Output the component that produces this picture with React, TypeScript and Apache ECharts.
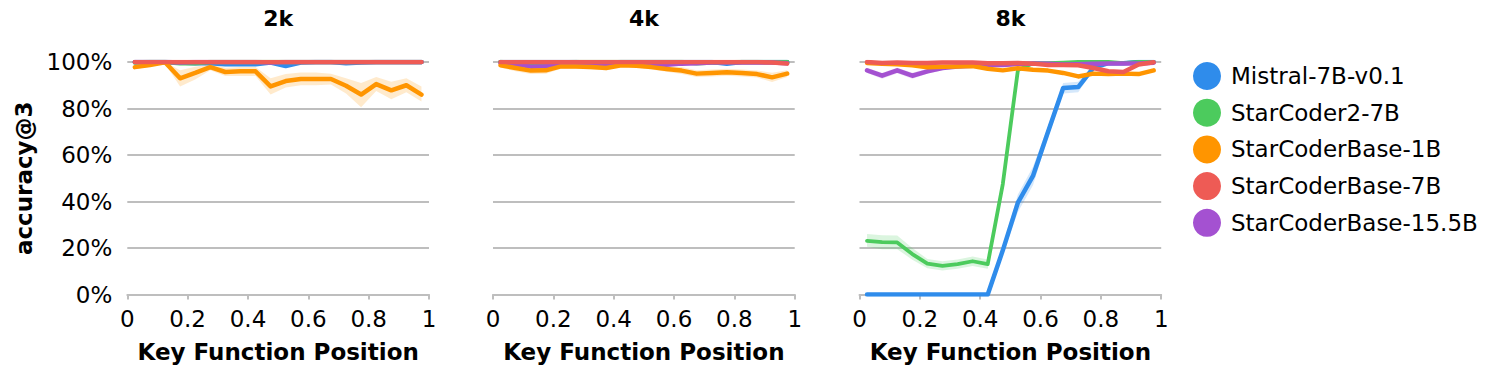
import React, { useEffect, useRef } from "react";
import * as echarts from "echarts";

const FONT = "'DejaVu Sans', Verdana, sans-serif";

const positions = [0.025, 0.075, 0.125, 0.175, 0.225, 0.275, 0.325, 0.375, 0.425, 0.475, 0.525, 0.575, 0.625, 0.675, 0.725, 0.775, 0.825, 0.875, 0.925, 0.975];
const panelTitles = ["2k", "4k", "8k"];
const modelNames = ["Mistral-7B-v0.1", "StarCoder2-7B", "StarCoderBase-1B", "StarCoderBase-7B", "StarCoderBase-15.5B"];
const modelColors = ["#2f8ceb", "#4ccb5d", "#ff9500", "#ee5b55", "#a451d1"];
const xTicks = [0, 0.2, 0.4, 0.6, 0.8, 1];
const yTicks = [0, 20, 40, 60, 80, 100];

// 2k context (accuracy@3, %)
const mistral2k = [100, 100, 100, 99.8, 99.5, 99.5, 99, 99, 99, 99.8, 98.3, 99.8, 100, 100, 99.5, 99.8, 100, 100, 100, 100];
const sc2_2k = [99.8, 100, 100, 99.5, 99.5, 100, 100, 100, 100, 100, 100, 100, 100, 100, 100, 100, 100, 100, 100, 100];
const scb1_2k = [97.8, 98.7, 99.9, 93, 95.3, 97.8, 95.7, 96, 96, 89.5, 91.8, 92.7, 92.7, 92.7, 89.8, 86, 90.5, 87.8, 90, 86];
const scb7_2k = [100, 100, 100, 100, 100, 100, 100, 100, 100, 100, 100, 100, 100, 100, 100, 100, 100, 100, 100, 100];
const scb15_2k = [100, 100, 100, 99.8, 100, 100, 100, 100, 100, 99.8, 100, 100, 100, 100, 100, 100, 100, 100, 100, 100];
const scb1_2kLo = [97, 98, 99.3, 89.5, 92.5, 96.5, 94, 94, 94, 86, 89, 90, 90, 90.3, 86.5, 80.5, 87.5, 84, 87, 83];
const scb1_2kHi = [98.6, 99.4, 100, 96.5, 98, 99, 97.5, 97.8, 97.8, 93, 94.8, 95.5, 95.5, 95, 93, 91, 93.5, 91.5, 93, 89.5];

// 4k context
const mistral4k = [100, 100, 100, 100, 100, 100, 99.6, 99.6, 100, 100, 100, 100, 100, 100, 100, 99.2, 100, 100, 100, 100];
const sc2_4k = [100, 99.5, 99.5, 99.3, 99.8, 100, 100, 100, 100, 100, 100, 100, 100, 99.5, 99.8, 99.8, 100, 100, 100, 100];
const scb1_4k = [98.6, 97.4, 96.3, 96.4, 98.1, 98.1, 97.8, 97.4, 98.6, 98.4, 97.8, 97, 96.3, 95, 95.3, 95.6, 95.3, 94.8, 93.4, 95];
const scb7_4k = [100, 100, 100, 100, 100, 100, 100, 100, 100, 100, 100, 100, 100, 100, 100, 100, 100, 100, 99.8, 99.3];
const scb15_4k = [99.5, 99, 98, 98.2, 99.5, 99.5, 98.8, 98.5, 99, 99.3, 99, 98.8, 99.3, 99.5, 99.8, 99.8, 99.8, 99.8, 99.8, 99.5];
const scb1_4kLo = [97.6, 96, 94.8, 95, 97.1, 97.1, 96.8, 96.4, 97.8, 97.6, 96.8, 95.8, 94.8, 93.5, 93.8, 94.1, 93.8, 93.3, 91.4, 93.5];
const scb1_4kHi = [99.4, 98.6, 97.6, 97.8, 99, 99, 98.8, 98.4, 99.4, 99.2, 98.8, 98.2, 97.8, 96.5, 96.8, 97.1, 96.8, 96.3, 95.4, 96.5];

// 8k context
const mistral8k = [0, 0, 0, 0, 0, 0, 0, 0, 0, 19, 39.5, 51, 70, 88.8, 89.2, 97.5, 99.5, 99.5, 100, 100];
const sc2_8k = [23.1, 22.5, 22.4, 17.4, 13.3, 12.3, 13.1, 14.3, 13.1, 47.5, 96.5, 99.5, 99.5, 99.7, 100, 100, 100, 99.5, 100, 100];
const scb1_8k = [99.6, 99.3, 99, 98.6, 97.7, 98, 98.1, 98.3, 97.1, 96.4, 97.3, 96.7, 96.3, 95.3, 93.8, 95, 94.8, 95, 94.8, 96.4];
const scb7_8k = [100, 99.6, 99.8, 99.6, 99.6, 99.8, 99.8, 99.8, 99.5, 99.5, 99.6, 99.3, 98.7, 98.7, 98.6, 97.4, 96, 95.7, 98.9, 99.9];
const scb15_8k = [96.4, 94.1, 96.4, 94.1, 96, 97.4, 98.1, 98.4, 98.7, 98.7, 99.1, 99.4, 99.2, 98.9, 99, 99.2, 99.4, 99.4, 99.4, 99.7];
const mistral8kLo = [0, 0, 0, 0, 0, 0, 0, 0, 0, 17, 35.5, 47, 67.5, 86.5, 87, 96.5, 99, 99, 99.6, 99.6];
const mistral8kHi = [0.3, 0.3, 0.3, 0.3, 0.3, 0.3, 0.3, 0.3, 0.3, 21, 43, 55, 72.5, 91, 91.5, 98.5, 100, 100, 100, 100];
const sc2_8kLo = [20.5, 19.5, 19.5, 15, 11.3, 10.3, 11.1, 12.3, 11.1, 45.5, 95.5, 99, 99, 99.3, 99.6, 99.6, 99.6, 99, 99.6, 99.6];
const sc2_8kHi = [26, 25.5, 25.4, 20, 15.3, 14.3, 15.1, 16.3, 15.1, 49.5, 97.5, 100, 100, 100, 100, 100, 100, 100, 100, 100];
const scb15_8kLo = [95.3, 92.8, 95.2, 92.8, 94.9, 96.5, 97.3, 97.7, 98, 98, 98.5, 98.8, 98.6, 98.3, 98.4, 98.6, 98.8, 98.8, 98.8, 99.2];
const scb15_8kHi = [97.4, 95.4, 97.5, 95.4, 97.1, 98.3, 98.9, 99.1, 99.3, 99.3, 99.6, 99.9, 99.8, 99.5, 99.6, 99.8, 99.9, 99.9, 99.9, 100];

const panels = [
  { lines: [mistral2k, sc2_2k, scb1_2k, scb7_2k, scb15_2k], bands: [{ model: 2, lo: scb1_2kLo, hi: scb1_2kHi }] },
  { lines: [mistral4k, sc2_4k, scb1_4k, scb7_4k, scb15_4k], bands: [{ model: 2, lo: scb1_4kLo, hi: scb1_4kHi }] },
  {
    lines: [mistral8k, sc2_8k, scb1_8k, scb7_8k, scb15_8k],
    bands: [
      { model: 0, lo: mistral8kLo, hi: mistral8kHi },
      { model: 1, lo: sc2_8kLo, hi: sc2_8kHi },
      { model: 4, lo: scb15_8kLo, hi: scb15_8kHi },
    ],
  },
];

const drawOrder = [0, 1, 4, 2, 3];

function hexToRgba(hex: string, a: number) {
  const n = parseInt(hex.slice(1), 16);
  return `rgba(${(n >> 16) & 255},${(n >> 8) & 255},${n & 255},${a})`;
}

export default function App() {
  const ref = useRef<HTMLDivElement>(null);
  useEffect(() => {
    if (!ref.current) return;
    const chart = echarts.init(ref.current, undefined, { renderer: "svg" });
    const gridLefts = [127.3, 493, 859.5];
    const gridW = 301.7;
    const grids = gridLefts.map((l) => ({ left: l, top: 62, width: gridW, height: 232.5 }));
    const xAxes = gridLefts.map((_, i) => ({
      type: "value",
      gridIndex: i,
      min: 0,
      max: 1,
      interval: 0.2,
      name: "Key Function Position",
      nameLocation: "middle",
      nameGap: 46,
      nameTextStyle: { fontFamily: FONT, fontSize: 23, fontWeight: "bold", color: "#000" },
      axisLine: { show: true, lineStyle: { color: "#bebebe", width: 2 } },
      axisTick: { show: true, length: 5, lineStyle: { color: "#bebebe", width: 2 } },
      axisLabel: {
        fontFamily: FONT,
        fontSize: 23,
        color: "#000",
        margin: 13,
        formatter: (v: number) => String(parseFloat(v.toFixed(1))),
        customValues: xTicks,
      },
      splitLine: { show: false },
    }));
    const yAxes = gridLefts.map((_, i) => ({
      type: "value",
      gridIndex: i,
      min: 0,
      max: 100,
      interval: 20,
      name: i === 0 ? "accuracy@3" : "",
      nameLocation: "middle",
      nameGap: 92,
      nameRotate: 90,
      nameTextStyle: { fontFamily: FONT, fontSize: 23, fontWeight: "bold", color: "#000" },
      axisLine: { show: false },
      axisTick: { show: false },
      axisLabel: {
        show: i === 0,
        fontFamily: FONT,
        fontSize: 23,
        color: "#000",
        margin: 15,
        formatter: (v: number) => `${v}%`,
        customValues: yTicks,
      },
      splitLine: { show: true, lineStyle: { color: "#bebebe", width: 2 } },
    }));

    const series: any[] = [];
    panels.forEach((p, pi) => {
      p.bands.forEach((b) => {
        const color = modelColors[b.model];
        series.push({
          type: "custom",
          name: modelNames[b.model] + " band",
          xAxisIndex: pi,
          yAxisIndex: pi,
          silent: true,
          z: 1,
          data: positions.map((x, k) => [x, b.lo[k], b.hi[k]]),
          encode: { x: 0, y: [1, 2] },
          renderItem: (params: any, api: any) => {
            if (params.dataIndex !== 0) return null;
            const upper = positions.map((x, k) => api.coord([x, b.hi[k]]));
            const lower = positions.map((x, k) => api.coord([x, b.lo[k]])).reverse();
            return {
              type: "polygon",
              shape: { points: upper.concat(lower) },
              style: { fill: hexToRgba(color, 0.2), stroke: "none" },
            };
          },
        });
      });
      drawOrder.forEach((m, oi) => {
        series.push({
          type: "line",
          name: modelNames[m],
          xAxisIndex: pi,
          yAxisIndex: pi,
          data: positions.map((x, k) => [x, p.lines[m][k]]),
          showSymbol: false,
          symbol: "none",
          z: 2 + oi,
          lineStyle: { color: modelColors[m], width: pi === 2 && m === 1 ? 3.8 : 4.5, cap: "round", join: "round" },
          itemStyle: { color: modelColors[m] },
        });
      });
    });

    chart.setOption({
      animation: false,
      backgroundColor: "#fff",
      title: panelTitles.map((t, i) => ({
        text: t,
        left: gridLefts[i] + gridW / 2,
        top: 7,
        textAlign: "center",
        padding: 0,
        textStyle: { fontFamily: FONT, fontSize: 22, fontWeight: "bold", color: "#000" },
      })),
      legend: {
        orient: "vertical",
        left: 1193,
        top: 62,
        padding: 0,
        itemWidth: 28,
        itemHeight: 28,
        itemGap: 8.7,
        icon: "circle",
        selectedMode: false,
        data: modelNames.map((n, i) => ({ name: n, itemStyle: { color: modelColors[i] } })),
        textStyle: { fontFamily: FONT, fontSize: 23, color: "#000", padding: [0, 0, 0, 5] },
      },
      grid: grids,
      xAxis: xAxes,
      yAxis: yAxes,
      series,
    });
    return () => chart.dispose();
  }, []);
  return <div ref={ref} style={{ position: "fixed", left: 0, top: 0, width: 1495, height: 376 }} />;
}
